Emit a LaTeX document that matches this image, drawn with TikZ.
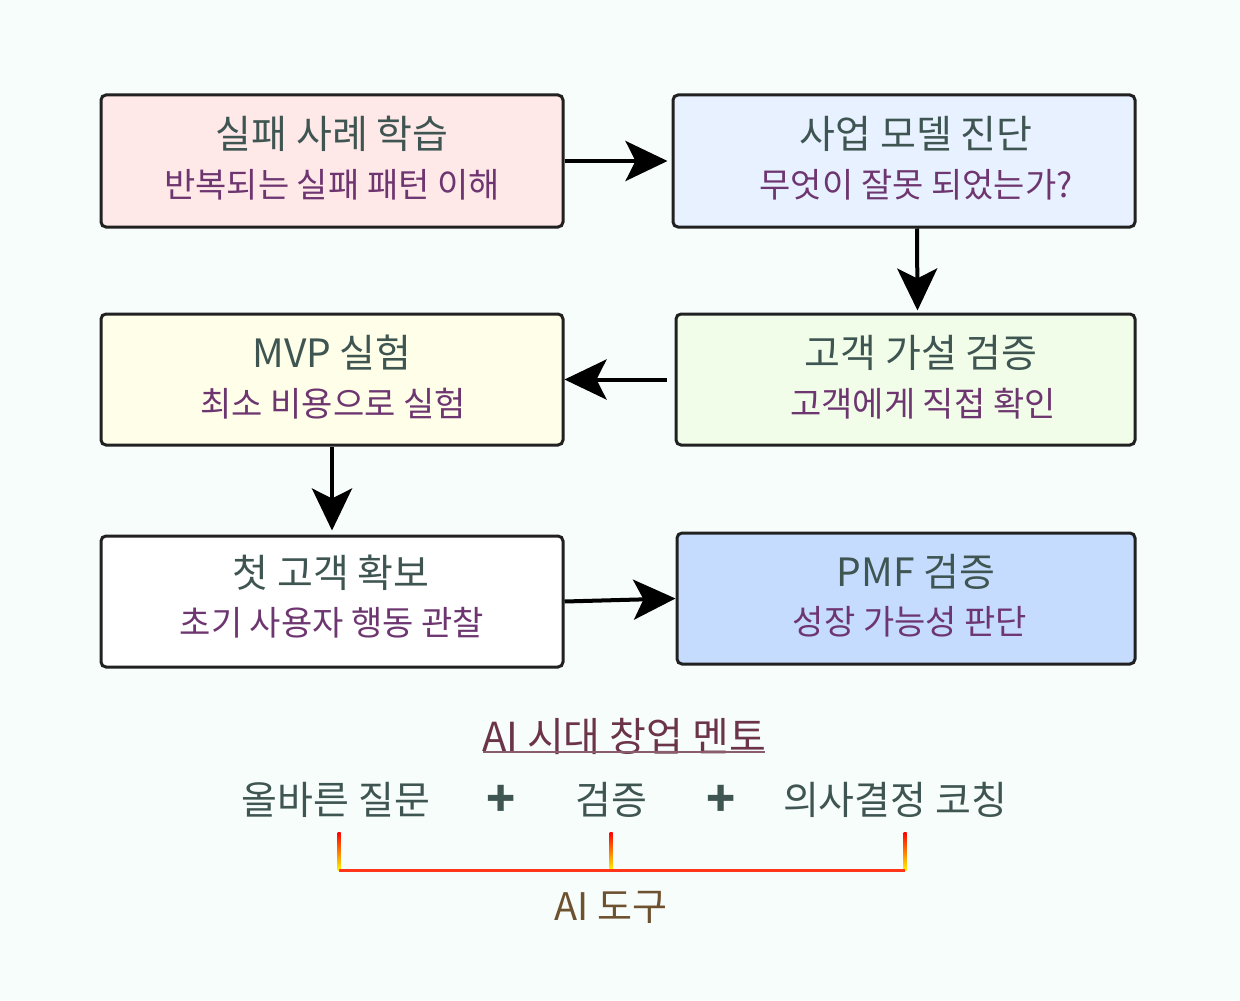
\documentclass[tikz,border=0pt]{standalone}
\usepackage{fontspec}
\setmainfont{Noto Sans CJK KR}
\usetikzlibrary{arrows.meta}

\definecolor{bgc}{HTML}{F7FDFA}
\definecolor{ttlc}{HTML}{3E5552}
\definecolor{subc}{HTML}{6E3670}
\definecolor{headc}{HTML}{6B3449}
\definecolor{toolc}{HTML}{6E5230}
\definecolor{pinkf}{HTML}{FFE8E8}
\definecolor{bluef}{HTML}{E8F1FF}
\definecolor{greenf}{HTML}{F1FDE8}
\definecolor{yellowf}{HTML}{FFFFE9}
\definecolor{deepbluef}{HTML}{C5DCFF}

\tikzset{
	box/.style={draw=black!87, line width=1.5pt, rounded corners=2.5pt, minimum width=231pt, minimum height=66pt},
	ttl/.style={text=ttlc, font=\fontsize{19.5}{22}\selectfont},
	sub/.style={text=subc, font=\fontsize{17}{20}\selectfont},
	flow/.style={-{Stealth[length=21pt,width=20pt,inset=5pt]}, line width=2pt, black},
	row/.style={text=ttlc, font=\fontsize{19.5}{22}\selectfont},
}

\begin{document}
\begin{tikzpicture}[x=0.5pt, y=-0.5pt]
	\useasboundingbox (0,0) rectangle (1240,1000);
	\fill[bgc] (0,0) rectangle (1240,1000);
	%boxes
	\node[box, fill=pinkf] (lesson) at (332,161) {};
	\node[box, fill=bluef] (diag) at (904,161) {};
	\node[box, fill=greenf, minimum width=229.5pt, minimum height=65.5pt] (hyp) at (905.5,379.5) {};
	\node[box, fill=yellowf, minimum height=65.5pt] (mvp) at (332,379.5) {};
	\node[box, fill=white, minimum height=65.5pt] (first) at (332,601.5) {};
	\node[box, fill=deepbluef, minimum width=229pt, minimum height=65.5pt] (pmf) at (906,598.5) {};
	%texts
	\node[ttl] (lesson-t) at (332,134) {실패 사례 학습};
	\node[sub] (lesson-s) at (332,185) {반복되는 실패 패턴 이해};
	\node[ttl] (diag-t) at (916,134) {사업 모델 진단};
	\node[sub] (diag-s) at (916,185) {무엇이 잘못 되었는가?};
	\node[ttl] (hyp-t) at (921,353) {고객 가설 검증};
	\node[sub] (hyp-s) at (923,404) {고객에게 직접 확인};
	\node[ttl] (mvp-t) at (332,353) {MVP 실험};
	\node[sub] (mvp-s) at (333,404) {최소 비용으로 실험};
	\node[ttl] (first-t) at (331,573) {첫 고객 확보};
	\node[sub] (first-s) at (332,623) {초기 사용자 행동 관찰};
	\node[ttl] (pmf-t) at (916,572) {PMF 검증};
	\node[sub] (pmf-s) at (910,622) {성장 가능성 판단};
	%arrows
	\draw[flow, shorten >=2pt] (lesson.east) -- (diag.west);
	\draw[flow, shorten >=1pt] ([xshift=6.5pt]diag.south) -- ([xshift=6pt]hyp.north);
	\draw[flow, shorten <=4pt] (hyp.west) -- (mvp.east);
	\draw[flow, shorten >=2pt] (mvp.south) -- (first.north);
	\draw[flow] (first.east) -- (pmf.west);
	%bottom
	\node[text=headc, font=\fontsize{20}{23}\selectfont] (head) at (624,736) {AI 시대 창업 멘토};
	\draw[headc!80, line width=0.6pt] (483,752) -- (765,752);
	\node[row] (ask) at (336,800) {올바른 질문};
	\node[row, font=\fontsize{24}{26}\bfseries] (plus1) at (501,801) {+};
	\node[row] (check) at (611,800) {검증};
	\node[row, font=\fontsize{24}{26}\bfseries] (plus2) at (721,801) {+};
	\node[row] (coach) at (895,800) {의사결정 코칭};
	\node[text=toolc, font=\fontsize{19}{22}\selectfont] (tool) at (611,907) {AI 도구};
	\coordinate (b1) at (339,832);
	\coordinate (b2) at (611,832);
	\coordinate (b3) at (905,832);
	\foreach \b in {b1,b2,b3}
		\shade[top color=red, bottom color=yellow!90!orange] ([xshift=-0.75pt]\b) rectangle ([xshift=0.75pt,yshift=-19pt]\b);
	\draw[red!75!orange!90, line width=1.5pt] ([yshift=-19pt]b1) -- ([yshift=-19pt]b3);
\end{tikzpicture}
\end{document}
